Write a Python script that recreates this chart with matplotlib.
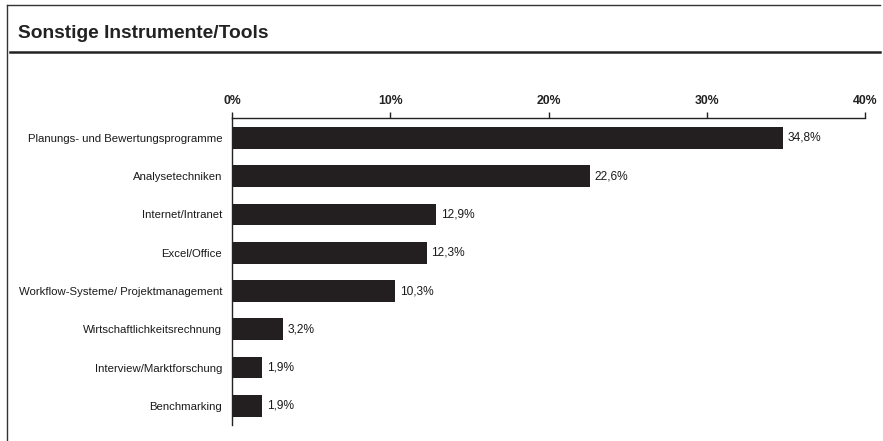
import matplotlib
matplotlib.use("Agg")
import matplotlib.pyplot as plt
from matplotlib.lines import Line2D

categories = [
    "Planungs- und Bewertungsprogramme",
    "Analysetechniken",
    "Internet/Intranet",
    "Excel/Office",
    "Workflow-Systeme/ Projektmanagement",
    "Wirtschaftlichkeitsrechnung",
    "Interview/Marktforschung",
    "Benchmarking",
]
values = [34.8, 22.6, 12.9, 12.3, 10.3, 3.2, 1.9, 1.9]
xticks = [0, 10, 20, 30, 40]
xtick_labels = ["0%", "10%", "20%", "30%", "40%"]
title = "Sonstige Instrumente/Tools"

plt.rcParams['font.family'] = ['Liberation Sans', 'DejaVu Sans']
W, H = 883, 441
fig = plt.figure(figsize=(W / 100, H / 100), dpi=100)
fig.patch.set_facecolor("white")

# frame lines
fig.add_artist(Line2D([7 / W, 880 / W], [1 - 5 / H, 1 - 5 / H], color="#333333", lw=1.0))
fig.add_artist(Line2D([7 / W, 7 / W], [1 - 5 / H, 0], color="#333333", lw=1.0))
fig.add_artist(Line2D([10 / W, 880 / W], [1 - 52 / H, 1 - 52 / H], color="#222222", lw=1.8))
fig.text(18 / W, 1 - 34 / H, title, fontsize=13.8, fontweight="bold", color="#222222",
         va="center", ha="left")

ax = fig.add_axes([232 / W, 1 - 425 / H, (865 - 232) / W, (425 - 118) / H])
ypos = list(range(len(categories)))
ax.barh(ypos, values, height=0.57, color="#231f20")
ax.set_xlim(0, 40)
ax.set_ylim(7.5, -0.52)
ax.xaxis.tick_top()
ax.set_xticks(xticks)
ax.set_xticklabels(xtick_labels, fontsize=8.8, fontweight="bold", color="#222222")
ax.tick_params(axis="x", direction="out", length=4, width=1, pad=4, color="#222222")
ax.set_yticks(ypos)
ax.set_yticklabels(categories, fontsize=8.2, color="#1a1a1a")
ax.tick_params(axis="y", length=0, pad=7)
for s in ["right", "bottom"]:
    ax.spines[s].set_visible(False)
for s in ["top", "left"]:
    ax.spines[s].set_color("#222222")
    ax.spines[s].set_linewidth(1.0)
for y, v in zip(ypos, values):
    ax.text(v + 0.3, y, f"{v:.1f}%".replace(".", ","), va="center", ha="left",
            fontsize=8.6, color="#1a1a1a")

fig.savefig("out.png", dpi=100)
